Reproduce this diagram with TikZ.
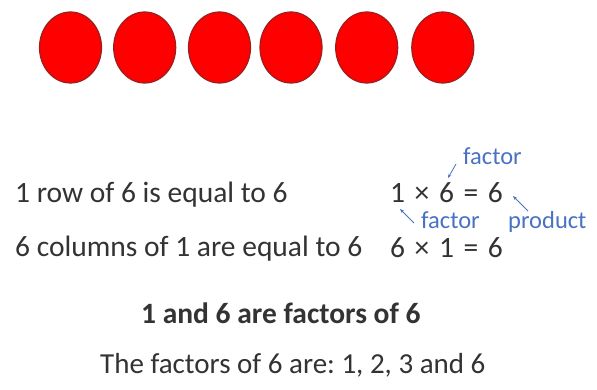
\documentclass[tikz,border=0pt]{standalone}
\usepackage{fontspec}
\setmainfont{Carlito}
\usetikzlibrary{arrows.meta}
\definecolor{txt}{HTML}{333333}
\definecolor{lbl}{HTML}{4A72C4}
\definecolor{dot}{HTML}{FF0000}
\definecolor{dotedge}{HTML}{9A1F1F}
\newcommand{\eqgap}{\hspace{9.6pt}}
\frenchspacing
\begin{document}
\begin{tikzpicture}[x=1pt,y=-1pt,
  counter/.style={fill=dot,draw=dotedge,line width=1.2pt},
  body/.style={inner sep=0pt,anchor=base west,text=txt,font=\fontsize{29.5}{36}\selectfont},
  bodyb/.style={body,font=\fontsize{29.5}{36}\selectfont\bfseries},
  tag/.style={inner sep=0pt,anchor=base west,text=lbl,font=\fontsize{24.5}{30}\selectfont},
  pointer/.style={draw=lbl,line width=0.8pt,-{Stealth[length=4pt,width=3pt]}}]
\useasboundingbox (0,0) rectangle (597,390);
\fill[white] (0,0) rectangle (597,390);
\foreach \i/\cx in {1/70.5,2/144.7,3/219.5,4/291,5/366.7,6/442.8}{
  \draw[counter] (\cx,47.5) ellipse [x radius=31, y radius=35.5];
}
\node[body] (row) at (15,203) {1 row of 6 is equal to 6};
\node[body] (cols) at (15,257) {6 columns of 1 are equal to 6};
\node[body] (eq1) at (390,203) {1\eqgap×\eqgap6\eqgap=\eqgap6};
\node[body] (eq2) at (390,258) {6\eqgap×\eqgap1\eqgap=\eqgap6};
\node[bodyb] (fact) at (141,323) {1 and 6 are factors of 6};
\node[body,font=\fontsize{29}{36}\selectfont] (all) at (100,373) {The factors of 6 are: 1, 2, 3 and 6};
\node[tag] (ftop) at (463,165) {factor};
\node[tag] (fbot) at (421,229) {factor};
\node[tag] (prod) at (508,229) {product};
\coordinate (a1s) at (456,164);
\coordinate (a1e) at (448,178);
\coordinate (a2s) at (414,223);
\coordinate (a2e) at (400,209);
\coordinate (a3s) at (528,211);
\coordinate (a3e) at (513,196);
\draw[pointer] (a1s) -- (a1e);
\draw[pointer] (a2s) -- (a2e);
\draw[pointer] (a3s) -- (a3e);
\end{tikzpicture}
\end{document}
